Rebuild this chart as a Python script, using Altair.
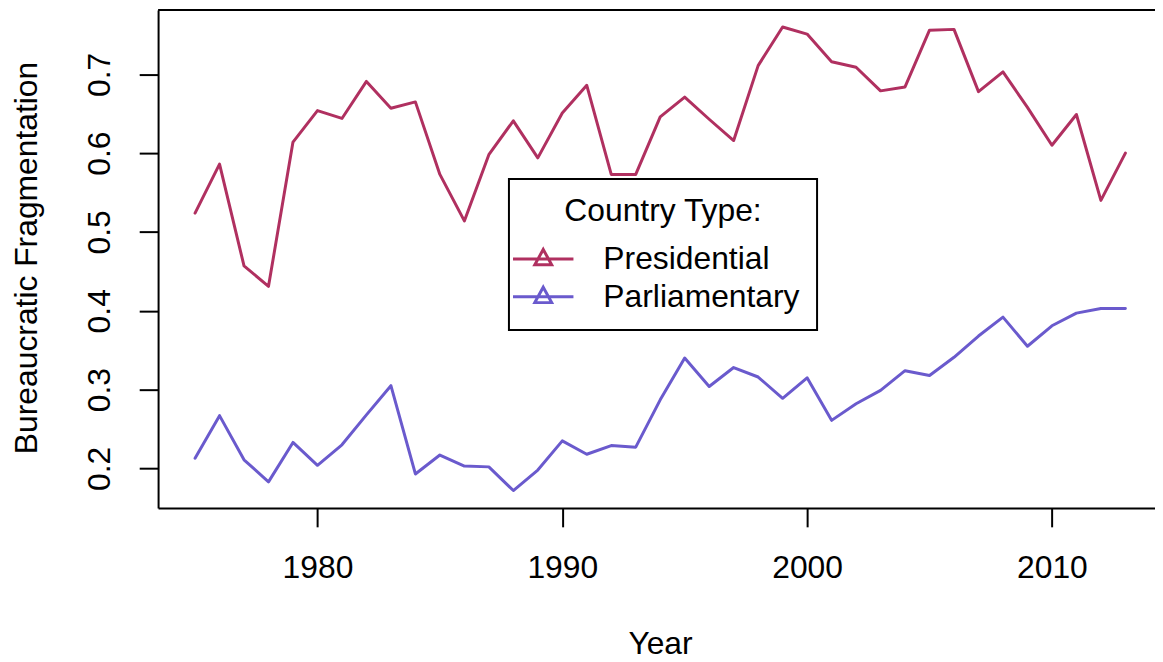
import altair as alt
import pandas as pd

years = list(range(1975, 2014))
presidential = [0.524, 0.586, 0.457, 0.431, 0.614, 0.654, 0.644, 0.691, 0.657, 0.665, 0.573, 0.514, 0.598,
                0.641, 0.594, 0.651, 0.686, 0.573, 0.573, 0.646, 0.671, 0.643, 0.616, 0.711, 0.760, 0.751,
                0.716, 0.709, 0.679, 0.684, 0.756, 0.757, 0.678, 0.703, 0.658, 0.610, 0.649, 0.540, 0.600]
parliamentary = [0.213, 0.267, 0.211, 0.183, 0.233, 0.204, 0.230, 0.268, 0.305, 0.193, 0.217, 0.203, 0.202,
                 0.172, 0.198, 0.235, 0.218, 0.229, 0.227, 0.287, 0.340, 0.304, 0.328, 0.316, 0.289, 0.315,
                 0.261, 0.282, 0.299, 0.324, 0.318, 0.341, 0.368, 0.392, 0.355, 0.381, 0.397, 0.403, 0.403]
series_names = ["Presidential", "Parliamentary"]
series_colors = ["#B03060", "#6A5ACD"]
x_ticks = [1980, 1990, 2000, 2010]
y_ticks = [0.2, 0.3, 0.4, 0.5, 0.6, 0.7]

df = pd.DataFrame({
    "Year": years * 2,
    "value": presidential + parliamentary,
    "type": [series_names[0]] * len(years) + [series_names[1]] * len(years),
})

FONT = "Liberation Sans"
FS = 32

legend_symbol = "M-1.9,0H1.9M0,-0.6L0.53,0.37H-0.53Z"

lines = alt.Chart(df).mark_line(strokeWidth=3, strokeJoin="round", strokeCap="round").encode(
    x=alt.X("Year:Q",
            scale=alt.Scale(domain=[1973.49, 2014.21], nice=False, zero=False),
            axis=alt.Axis(values=x_ticks, format="d", title="Year",
                          labelBaseline="alphabetic", labelPadding=51,
                          labelFlush=False, labelOverlap=False,
                          titleX=505, titleY=146, titleBaseline="alphabetic")),
    y=alt.Y("value:Q",
            scale=alt.Scale(domain=[0.1499, 0.7816], nice=False, zero=False),
            axis=alt.Axis(values=y_ticks, format=".1f", title="Bureaucratic Fragmentation",
                          labelAngle=-90, labelAlign="center", labelBaseline="alphabetic",
                          labelPadding=30, labelFlush=False, labelOverlap=False,
                          titleX=-122, titleY=249, titleBaseline="alphabetic", titleAngle=270)),
    color=alt.Color("type:N",
                    scale=alt.Scale(domain=series_names, range=series_colors),
                    legend=alt.Legend(title="Country Type:", orient="none",
                                      legendX=353, legendY=170,
                                      symbolType=legend_symbol, symbolSize=1024,
                                      symbolStrokeWidth=3, symbolFillColor="transparent",
                                      labelOffset=43, rowPadding=4, titlePadding=14,
                                      padding=17, titleAnchor="middle", titleAlign="center",
                                      labelLimit=0, titleLimit=0,
                                      strokeColor="black")),
)

top_border = alt.Chart(pd.DataFrame({"k": [0]})).mark_rule(color="black", strokeWidth=2).encode(
    x=alt.value(0), x2=alt.value(1003), y=alt.value(0)
)

chart = alt.layer(lines, top_border).properties(
    width=1003, height=501,
    autosize=alt.AutoSizeParams(type="none"),
    padding={"left": 151, "top": 0, "right": 0, "bottom": 153},
    background="white",
).configure(font=FONT).configure_view(stroke=None).configure_axis(
    grid=False, labelFont=FONT, titleFont=FONT, labelFontSize=FS, titleFontSize=FS,
    labelColor="black", titleColor="black", titleFontWeight="normal",
    tickColor="black", domainColor="black", tickWidth=2, domainWidth=2, tickSize=19,
    labelLimit=0, titleLimit=0,
).configure_legend(
    labelFont=FONT, titleFont=FONT, labelFontSize=FS, titleFontSize=FS,
    labelColor="black", titleColor="black", titleFontWeight="normal",
    strokeWidth=2,
)

chart.save("out.html", embed_options={"renderer": "svg", "actions": False})
